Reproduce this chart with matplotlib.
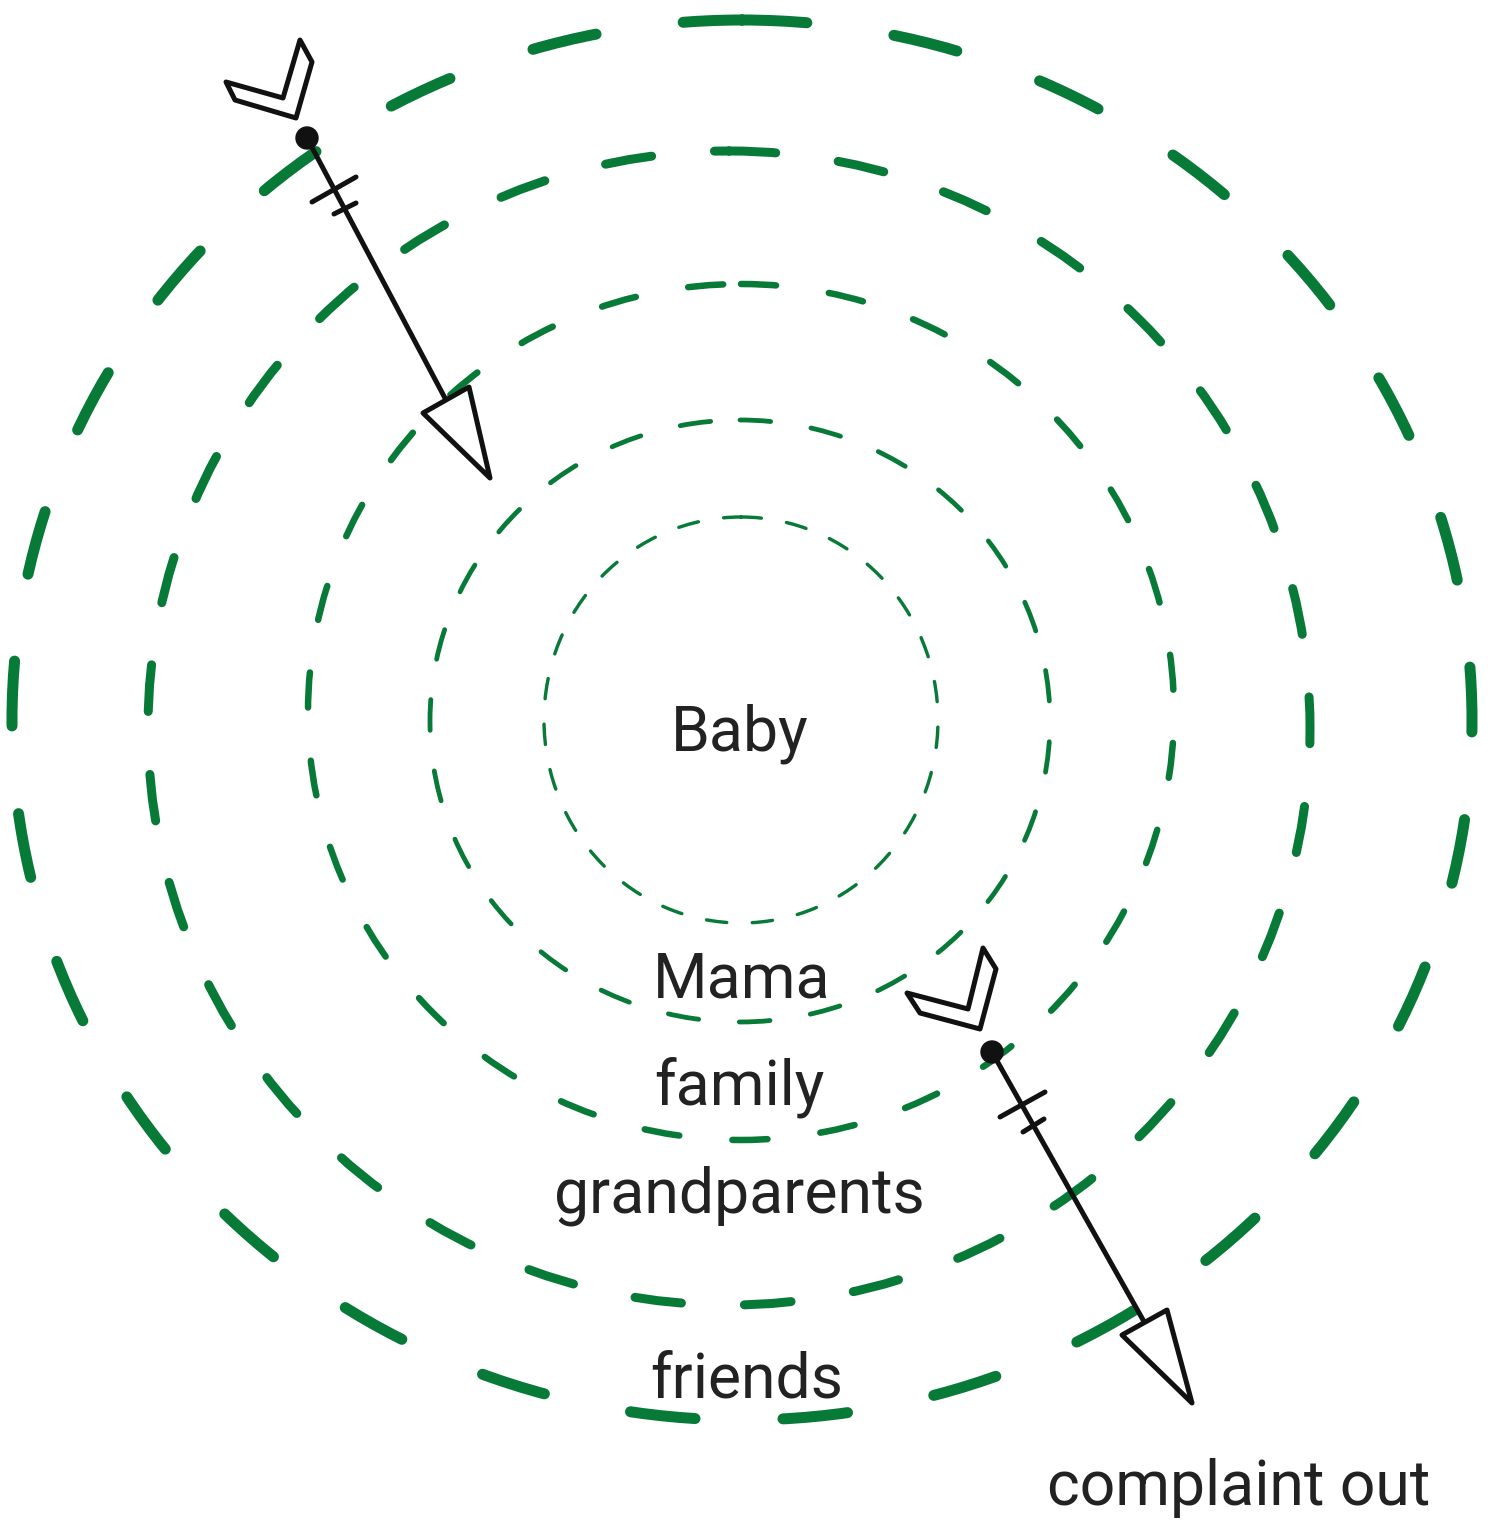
import matplotlib
matplotlib.use("Agg")
import matplotlib.pyplot as plt
from matplotlib.patches import Ellipse, Polygon, Circle

# rings, inner -> outer (pixel space of the picture)
ring_cx = [741, 740, 741, 729, 742]
ring_cy = [720, 721, 712, 728, 720]
ring_rx = [197, 310, 433, 581, 730]
ring_ry = [203, 301, 428, 577, 700]
ring_lw = [3.4, 4.8, 6.5, 9.0, 11.0]
ring_dash = [(6.0, 7.5), (6.4, 8.5), (5.4, 8.2), (5.2, 7.0), (5.9, 8.0)]

labels = ["Baby", "Mama", "family", "grandparents", "friends"]
label_x = [740, 742, 739, 739, 747]
label_y = [750, 998, 1105, 1213, 1397]

# two arrows: tail dot, fletching, tick marks, open head
arrow_tail = [(307, 138), (992, 1052)]
arrow_fletch = [
    [(300, 40), (312, 62), (296, 118), (235, 100), (226, 82), (283, 98)],
    [(983, 948), (996, 969), (980, 1029), (920, 1013), (907, 993), (968, 1009)],
]
arrow_ticks = [
    [((312, 202), (356, 177)), ((334, 214), (356, 203))],
    [((1000, 1117), (1045, 1092)), ((1023, 1132), (1044, 1119))],
]
arrow_head = [
    [(423, 413), (469, 387), (490, 478)],
    [(1122, 1335), (1167, 1310), (1192, 1403)],
]

GREEN = "#087a37"
INK = "#111111"
TXT = "#222222"
FONT = ["Roboto", "DejaVu Sans"]

fig = plt.figure(figsize=(14.91, 15.32), dpi=100)
ax = fig.add_axes([0, 0, 1, 1])
ax.set_xlim(0, 1491)
ax.set_ylim(1532, 0)
ax.axis("off")

px = 0.72  # px -> pt at dpi 100

for cx, cy, rx, ry, lw, dash in zip(ring_cx, ring_cy, ring_rx, ring_ry, ring_lw, ring_dash):
    e = Ellipse((cx, cy), 2 * rx, 2 * ry, fill=False, edgecolor=GREEN,
                linewidth=lw * px, linestyle=(0, dash))
    e.set_capstyle("round")
    ax.add_patch(e)

for t, x, y in zip(labels, label_x, label_y):
    ax.text(x, y, t, ha="center", va="baseline", fontsize=45,
            family=FONT, color=TXT)

ax.text(1239, 1505, "complaint out", ha="center", va="baseline",
        fontsize=45, family=FONT, color=TXT)

lw_ink = 5 * px
for tail, fl, ticks, head in zip(arrow_tail, arrow_fletch, arrow_ticks, arrow_head):
    base = ((head[0][0] + head[1][0]) / 2, (head[0][1] + head[1][1]) / 2)
    ax.plot([tail[0], base[0]], [tail[1], base[1]], color=INK,
            lw=lw_ink, solid_capstyle="round")
    for (a, b) in ticks:
        ax.plot([a[0], b[0]], [a[1], b[1]], color=INK, lw=lw_ink,
                solid_capstyle="round")
    ax.add_patch(Polygon(fl, closed=True, fill=False, edgecolor=INK,
                         linewidth=lw_ink, joinstyle="round"))
    ax.add_patch(Polygon(head, closed=True, facecolor="white", edgecolor=INK,
                         linewidth=lw_ink, joinstyle="round", zorder=3))
    ax.add_patch(Circle(tail, 11, color=INK, zorder=4))

fig.savefig("out.png", dpi=100, facecolor="white")
